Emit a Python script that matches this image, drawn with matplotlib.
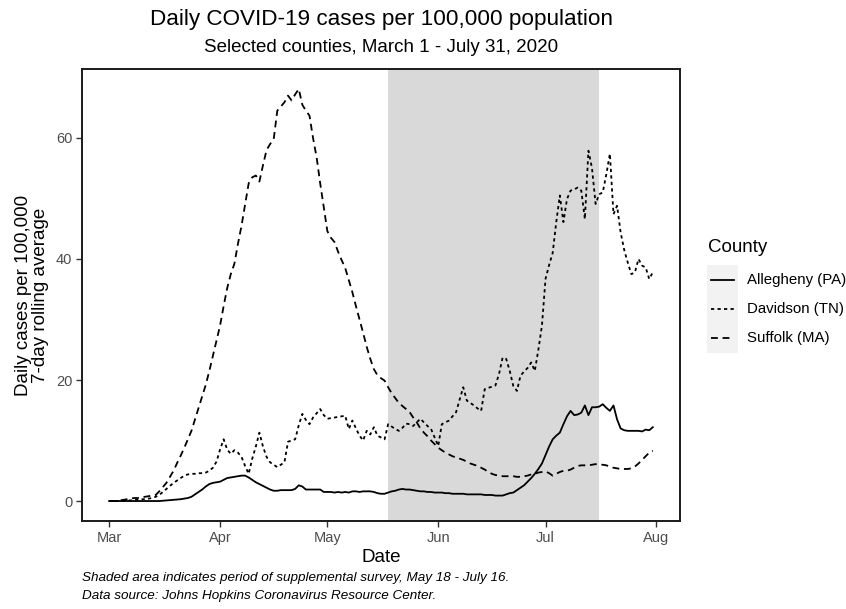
import matplotlib
matplotlib.use("Agg")
import matplotlib.pyplot as plt
import matplotlib.dates as mdates
from matplotlib.lines import Line2D
from matplotlib.patches import Rectangle
import pandas as pd

plt.rcParams['font.family'] = ['Liberation Sans', 'DejaVu Sans']

start_date = "2020-03-01"
end_date = "2020-07-31"
shade_start = "2020-05-18"
shade_end = "2020-07-16"

allegheny = [
    0.0, 0.0, 0.0, 0.0, 0.0, 0.0, 0.0, 0.0, 0.0, 0.0,
    0.0, 0.0, 0.0, 0.0, 0.0, 0.05, 0.1, 0.15, 0.2, 0.25,
    0.3, 0.4, 0.5, 0.7, 1.1, 1.5, 1.9, 2.4, 2.8, 3.0,
    3.1, 3.2, 3.5, 3.8, 3.9, 4.0, 4.1, 4.2, 4.2, 3.9,
    3.5, 3.1, 2.8, 2.5, 2.2, 1.9, 1.7, 1.7, 1.8, 1.8,
    1.8, 1.8, 2.0, 2.6, 2.4, 1.9, 1.9, 1.9, 1.9, 1.9,
    1.5, 1.5, 1.5, 1.4, 1.5, 1.4, 1.5, 1.4, 1.6, 1.6,
    1.5, 1.6, 1.6, 1.6, 1.5, 1.3, 1.2, 1.2, 1.4, 1.6,
    1.7, 1.9, 2.0, 1.9, 1.9, 1.8, 1.7, 1.6, 1.6, 1.5,
    1.5, 1.4, 1.4, 1.4, 1.3, 1.3, 1.2, 1.2, 1.2, 1.2,
    1.1, 1.1, 1.1, 1.1, 1.1, 1.0, 1.0, 1.0, 0.9, 0.9,
    0.9, 1.1, 1.3, 1.4, 1.8, 2.2, 2.6, 3.2, 3.8, 4.5,
    5.3, 6.2, 7.6, 9.0, 10.2, 10.8, 11.3, 12.7, 14.0, 14.9,
    14.2, 14.3, 14.6, 15.8, 14.2, 15.5, 15.5, 15.6, 16.0, 15.4,
    14.9, 15.8, 13.5, 12.0, 11.7, 11.6, 11.6, 11.6, 11.6, 11.5,
    11.8, 11.7, 12.2,
]

davidson = [
    0.0, 0.0, 0.0, 0.0, 0.0, 0.1, 0.1, 0.2, 0.2, 0.3,
    0.3, 0.4, 0.5, 0.7, 1.0, 1.5, 2.0, 2.5, 3.0, 3.4,
    3.8, 4.2, 4.4, 4.5, 4.5, 4.6, 4.6, 4.7, 5.0, 5.5,
    6.5, 8.5, 10.2, 8.5, 7.8, 8.4, 8.0, 7.3, 5.8, 4.5,
    7.0, 9.0, 11.3, 9.0, 7.3, 6.4, 6.0, 5.6, 6.0, 6.4,
    9.8, 10.0, 10.2, 12.5, 14.4, 13.4, 12.7, 13.8, 14.5, 15.2,
    14.2, 13.6, 13.7, 13.8, 13.9, 14.0, 14.1, 11.9, 13.3, 12.0,
    10.8, 10.0, 11.6, 11.0, 12.2, 10.8, 10.5, 10.2, 12.7, 12.3,
    11.9, 11.6, 12.1, 12.8, 12.7, 12.4, 13.0, 13.6, 13.0, 12.4,
    11.9, 10.5, 9.1, 12.7, 13.0, 13.3, 14.0, 14.7, 16.8, 18.8,
    16.6, 16.2, 15.8, 15.3, 14.9, 18.5, 18.7, 18.9, 19.1, 21.0,
    23.7, 23.5, 21.5, 19.0, 18.2, 20.7, 21.4, 22.0, 22.9, 21.5,
    25.0, 29.0, 36.7, 39.0, 41.0, 46.1, 50.5, 46.1, 49.9, 51.3,
    51.5, 51.8, 51.3, 46.6, 57.9, 55.0, 49.1, 50.7, 51.0, 54.0,
    57.4, 47.4, 48.8, 44.4, 41.5, 39.4, 37.5, 37.8, 40.0, 38.9,
    38.6, 36.7, 37.8,
]

suffolk = [
    0.0, 0.0, 0.0, 0.1, 0.2, 0.3, 0.4, 0.5, 0.5, 0.6,
    0.7, 0.8, 0.9, 1.0, 1.6, 2.3, 3.0, 4.0, 5.0, 6.3,
    7.5, 8.8, 10.2, 11.6, 13.5, 15.4, 17.3, 19.2, 21.5, 24.0,
    26.5, 29.0, 32.2, 35.2, 37.5, 39.2, 42.5, 45.5, 49.0, 52.5,
    53.5, 53.8, 52.8, 55.5, 58.0, 59.0, 59.8, 64.5, 65.2, 65.9,
    67.0, 66.2, 67.2, 68.1, 65.5, 64.5, 63.7, 60.0, 56.8, 52.5,
    48.5, 44.6, 43.5, 42.8, 41.2, 39.8, 38.5, 36.5, 34.5, 32.2,
    30.0, 27.8, 25.5, 23.5, 21.8, 20.8, 20.3, 19.9, 18.8, 17.8,
    17.0, 16.2, 15.7, 15.2, 14.7, 13.8, 13.0, 12.0, 11.3, 10.7,
    10.0, 9.4, 8.8, 8.4, 8.0, 7.7, 7.4, 7.2, 7.0, 6.8,
    6.5, 6.2, 6.0, 5.8, 5.5, 5.2, 4.8, 4.5, 4.3, 4.2,
    4.1, 4.1, 4.1, 4.1, 4.0, 4.0, 4.1, 4.2, 4.4, 4.5,
    4.7, 4.8, 4.9, 4.6, 4.2, 4.5, 4.8, 5.0, 5.0, 5.2,
    5.5, 5.8, 5.9, 5.9, 5.9, 6.0, 6.1, 6.0, 6.0, 5.9,
    5.7, 5.5, 5.4, 5.3, 5.3, 5.3, 5.4, 5.7, 6.2, 6.8,
    7.4, 8.0, 8.3,
]

counties = ["Allegheny (PA)", "Davidson (TN)", "Suffolk (MA)"]
series = [allegheny, davidson, suffolk]
styles = ["-", (0, (1.8, 1.8)), (0, (3.8, 2.6))]

dates = pd.date_range(start_date, end_date, freq="D")

W, H = 846, 609
fig = plt.figure(figsize=(W / 100, H / 100), dpi=100)
ax = fig.add_axes([82 / W, 1 - 521 / H, (680 - 82) / W, (521 - 69) / H])

ax.axvspan(pd.Timestamp(shade_start), pd.Timestamp(shade_end),
           color="#d9d9d9", lw=0, zorder=0)
LW = 1.3
for vals, ls in zip(series, styles):
    ax.plot(dates, vals, color="black", lw=LW, linestyle=ls, zorder=2)

pad = pd.Timedelta(days=7.6)
ax.set_xlim(dates[0] - pad, dates[-1] + pad)
ax.set_ylim(-3.3, 71.4)
ax.set_yticks([0, 20, 40, 60])
ax.xaxis.set_major_locator(mdates.MonthLocator())
ax.xaxis.set_major_formatter(mdates.DateFormatter("%b"))
ax.tick_params(axis="both", length=4, width=1.0, color="#333333",
               labelcolor="#4d4d4d", labelsize=10.5, pad=3)
for s in ax.spines.values():
    s.set_linewidth(1.4)
    s.set_color("#1a1a1a")

fig.text(381 / W, 1 - 558 / H, "Date", ha="center", va="center", fontsize=13.5)
fig.text(32 / W, 1 - 295 / H, "Daily cases per 100,000\n7-day rolling average",
         ha="center", va="center", rotation=90, fontsize=13.5, linespacing=1.05)

cx = (82 + 680) / 2 / W
fig.text(cx, 1 - 20 / H, "Daily COVID-19 cases per 100,000 population",
         ha="center", va="center", fontsize=16.2)
fig.text(cx, 1 - 47 / H, "Selected counties, March 1 - July 31, 2020",
         ha="center", va="center", fontsize=13.5)

fig.text(82 / W, 1 - 578 / H,
         "Shaded area indicates period of supplemental survey, May 18 - July 16.",
         ha="left", va="center", fontsize=9.7, style="italic")
fig.text(82 / W, 1 - 596 / H,
         "Data source: Johns Hopkins Coronavirus Resource Center.",
         ha="left", va="center", fontsize=9.7, style="italic")

# legend
fig.text(708 / W, 1 - 247 / H, "County", ha="left", va="center", fontsize=13.5)
fig.patches.append(Rectangle((707 / W, 1 - 353 / H), 31 / W, 88 / H,
                             transform=fig.transFigure, facecolor="#f2f2f2",
                             edgecolor="none", zorder=1))
for i, (lab, ls) in enumerate(zip(counties, styles)):
    yy = 1 - (280 + i * 29) / H
    fig.lines.append(Line2D([711 / W, 734 / W], [yy, yy], transform=fig.transFigure,
                            color="black", lw=LW, linestyle=ls, zorder=2))
    fig.text(747 / W, yy, lab, ha="left", va="center", fontsize=10.8)

fig.savefig("out.png", dpi=100)
